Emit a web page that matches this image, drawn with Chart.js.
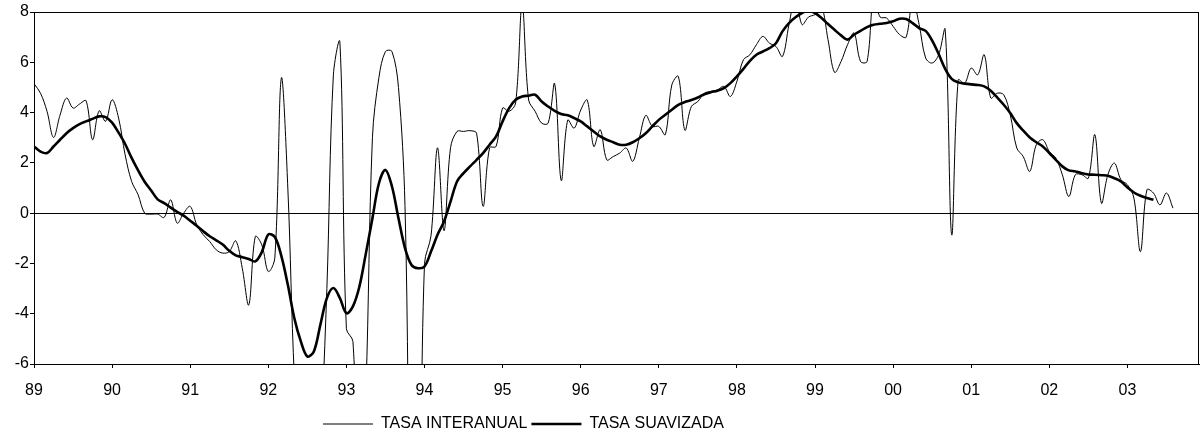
<!DOCTYPE html>
<html>
<head>
<meta charset="utf-8">
<script src="https://cdn.jsdelivr.net/npm/chart.js@4.4.1/dist/chart.umd.min.js"></script>
<style>
  html, body { margin: 0; padding: 0; background: #fff; }
  canvas { display: block; }
</style>
</head>
<body>
<canvas id="chart" width="1200" height="439"></canvas>
<script>
// Year labels on the x axis (one every 12 months, Jan 89 .. Jan 03)
const yearLabels = ['89', '90', '91', '92', '93', '94', '95', '96', '97', '98', '99', '00', '01', '02', '03'];

// Monthly values, Jan 1989 onwards
const tasaInteranual = [
  5.15, 4.77, 4.05, 3.01, 3.9, 4.58, 4.18, 4.34, 4.47, 2.92,
  4.07, 3.65, 4.51, 3.78, 2.32, 1.26, 0.73, 0.0, -0.04, -0.04,
  -0.17, 0.53, -0.4, 0.0, 0.27, -0.46, -0.86, -1.13, -1.46, -1.59,
  -1.53, -1.1, -2.19, -3.65, -0.93, -1.26, -2.32, -1.79, 5.37, 1.0,
  -6.5, -10, -12, -12, -9, -3, 5.5, 6.8, -4.6, -5.1,
  -12, -7, 3.0, 5.4, 6.43, 6.43, 5.0, 0.3, -14, -15,
  -2.0, -0.9, 2.6, -0.7, 2.6, 3.25, 3.25, 3.28, 3.18, 0.27,
  2.6, 2.65, 4.18, 4.05, 4.38, 8.3, 4.5, 4.05, 3.58, 3.58,
  5.15, 1.3, 3.7, 3.38, 4.1, 4.5, 2.65, 3.32, 2.12, 2.25,
  2.39, 2.59, 2.06, 2.98, 3.89, 3.45, 3.45, 3.12, 5.1, 5.44,
  3.3, 4.24, 4.44, 4.77, 4.84, 4.9, 5.04, 4.64, 5.24, 6.1,
  6.3, 6.7, 7.03, 6.76, 6.63, 6.23, 7.5, 8.6, 7.5, 7.8,
  7.9, 8.2, 6.9, 5.6, 6.03, 6.7, 7.16, 6.03, 6.03, 8.6,
  7.8, 7.76, 7.43, 7.1, 7.0, 8.5, 7.5, 6.17, 5.97, 6.3,
  7.3, -0.86, 5.3, 5.17, 5.77, 5.5, 6.3, 4.58, 4.77, 4.71,
  3.91, 2.59, 2.25, 1.66, 2.72, 2.92, 2.45, 2.19, 1.53, 0.66,
  1.53, 1.53, 1.39, 3.12, 0.4, 1.53, 1.99, 1.33, 1.13, 0.6,
  -1.53, 0.93, 0.8, 0.33, 0.8, 0.2
];

const tasaSuavizada = [
  2.65, 2.45, 2.39, 2.65, 2.92, 3.18, 3.38, 3.54, 3.65, 3.75,
  3.85, 3.82, 3.6, 3.2, 2.75, 2.2, 1.7, 1.25, 0.9, 0.55,
  0.4, 0.22, 0.05, -0.1, -0.3, -0.5, -0.72, -0.92, -1.08, -1.25,
  -1.5, -1.68, -1.75, -1.82, -1.92, -1.55, -0.85, -0.95, -1.7, -2.85,
  -4.18, -5.1, -5.7, -5.5, -4.44, -3.38, -2.98, -3.38, -3.98, -3.71,
  -2.92, -1.59, -0.2, 1.19, 1.72, 1.06, -0.2, -1.39, -2.06, -2.19,
  -2.12, -1.53, -0.86, -0.33, 0.46, 1.26, 1.59, 1.86, 2.12, 2.39,
  2.72, 3.05, 3.65, 4.18, 4.51, 4.64, 4.67, 4.71, 4.44, 4.24,
  4.07, 3.94, 3.89, 3.78, 3.65, 3.45, 3.25, 3.05, 2.92, 2.82,
  2.72, 2.72, 2.82, 2.98, 3.18, 3.45, 3.71, 3.91, 4.11, 4.31,
  4.42, 4.5, 4.6, 4.73, 4.81, 4.87, 4.97, 5.17, 5.44, 5.74,
  6.06, 6.3, 6.43, 6.56, 6.76, 7.23, 7.56, 7.79, 7.96, 8.05,
  7.96, 7.76, 7.52, 7.29, 7.07, 6.9, 7.1, 7.25, 7.4, 7.49,
  7.53, 7.56, 7.63, 7.73, 7.72, 7.56, 7.36, 7.25, 6.86, 6.33,
  5.74, 5.34, 5.2, 5.15, 5.12, 5.1, 5.04, 4.87, 4.6, 4.31,
  3.98, 3.58, 3.28, 3.01, 2.82, 2.65, 2.39, 2.12, 1.86, 1.7,
  1.66, 1.59, 1.54, 1.53, 1.51, 1.49, 1.39, 1.26, 1.02, 0.82,
  0.69, 0.6, 0.53
];

const yMin = -6, yMax = 8, yStep = 2;
const lastMonth = 179; // Dec 2003

const toPoints = arr => arr.map((v, i) => ({ x: i, y: v }));

Chart.defaults.font.family = '"Liberation Sans", Arial, sans-serif';
Chart.defaults.font.size = 16;
Chart.defaults.color = '#000';

// box round the plot area
const frame = {
  id: 'frame',
  beforeDatasetsDraw(chart) {
    const { ctx, chartArea: a } = chart;
    ctx.save();
    ctx.strokeStyle = '#000';
    ctx.lineWidth = 1;
    ctx.strokeRect(a.left + 0.5, a.top + 0.5, a.right - a.left - 1, a.bottom - a.top);
    ctx.restore();
  }
};

// legend sits left of centre and a little lower in the original
const legendShift = {
  id: 'legendShift',
  afterLayout(chart) {
    const lg = chart.legend;
    lg.left -= 76;
    lg.right -= 76;
    lg.top += 3;
    lg.bottom += 3;
  }
};

new Chart(document.getElementById('chart'), {
  type: 'line',
  data: {
    datasets: [
      {
        label: 'TASA INTERANUAL',
        data: toPoints(tasaInteranual),
        borderColor: '#000',
        borderWidth: 1,
        pointRadius: 0,
        tension: 0.35
      },
      {
        label: 'TASA SUAVIZADA',
        data: toPoints(tasaSuavizada),
        borderColor: '#000',
        borderWidth: 2.6,
        pointRadius: 0,
        tension: 0.35
      }
    ]
  },
  options: {
    responsive: false,
    animation: false,
    devicePixelRatio: 1,
    layout: { padding: { top: 12, right: 1, left: 0, bottom: 0 } },
    plugins: {
      legend: {
        position: 'bottom',
        labels: {
          usePointStyle: true,
          pointStyle: 'line',
          pointStyleWidth: 50,
          padding: 4,
          color: '#000',
          font: { size: 16 }
        }
      },
      tooltip: { enabled: false }
    },
    scales: {
      x: {
        type: 'linear',
        min: 0,
        max: lastMonth,
        afterBuildTicks: axis => {
          axis.ticks = yearLabels.map((_, i) => ({ value: i * 12 }));
        },
        afterFit: axis => { axis.height = 45; },
        ticks: {
          autoSkip: false,
          maxRotation: 0,
          padding: 13,
          callback: (value, index) => yearLabels[index]
        },
        grid: {
          drawOnChartArea: false,
          tickLength: 4,
          tickColor: '#000'
        },
        border: { display: true, color: '#000', width: 1 }
      },
      y: {
        min: yMin,
        max: yMax,
        afterFit: axis => { axis.width = 34; },
        ticks: { stepSize: yStep, padding: 1 },
        grid: {
          color: c => (c.tick && c.tick.value === 0 ? '#000' : 'rgba(0,0,0,0)'),
          lineWidth: 1,
          tickLength: 4,
          tickColor: '#000'
        },
        border: { display: true, color: '#000', width: 1 }
      }
    }
  },
  plugins: [frame, legendShift]
});
</script>
</body>
</html>
